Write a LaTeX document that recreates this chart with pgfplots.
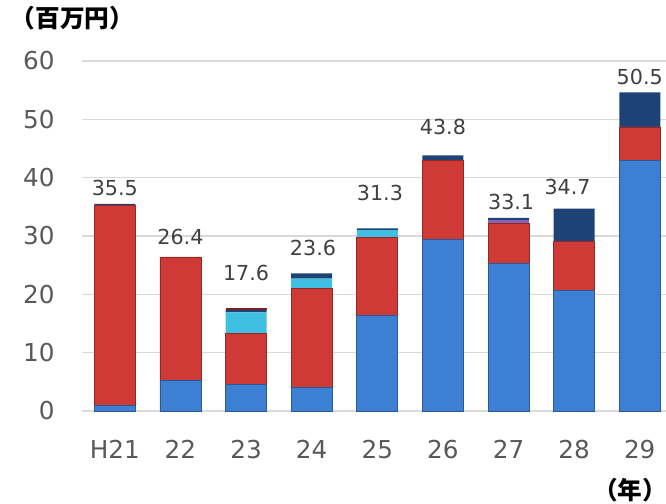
\documentclass[border=0pt]{standalone}
\usepackage{pgfplots}
\pgfplotsset{compat=1.18}
\usepackage{fontspec}
\setmainfont{DejaVu Sans}
\newfontfamily\jp{Noto Sans CJK JP}

\definecolor{cblue}{HTML}{3D7FD2}
\definecolor{cred}{HTML}{D03A36}
\definecolor{ccyan}{HTML}{3FC0E2}
\definecolor{cpurple}{HTML}{8A62B8}
\definecolor{cnavy}{HTML}{1E4275}
\definecolor{cmaroon}{HTML}{7A2222}
\definecolor{tickgray}{HTML}{595959}
\definecolor{labgray}{HTML}{404040}
\definecolor{gridgray}{HTML}{D9D9D9}

\begin{document}
\begin{tikzpicture}
\begin{axis}[
    at={(0,0)}, anchor=south west,
    scale only axis,
    width=438pt, height=262.5pt,
    ybar stacked,
    bar width=30.75pt,
    xmin=-0.5, xmax=8.4,
    ymin=0, ymax=60,
    ytick={0,10,...,60},
    xtick={0,...,8},
    xticklabels={H21,22,23,24,25,26,27,28,29},
    axis line style={draw=none},
    major tick length=0pt,
    ymajorgrids,
    grid style={gridgray, line width=1.2pt},
    tick label style={font=\fontsize{18.5}{22}\selectfont, text=tickgray},
    xticklabel style={yshift=-18pt},
    yticklabel style={xshift=-17pt},
    /pgf/number format/assume math mode=true,
    clip=false,
]
\addplot[fill=cblue, draw=cblue!70!black, line width=0.6pt] coordinates
  {(0,1.0) (1,5.3) (2,4.6) (3,4.0) (4,16.4) (5,29.4) (6,25.3) (7,20.7) (8,43.0)};
\addplot[fill=cred, draw=cred!70!black, line width=0.6pt] coordinates
  {(0,34.2) (1,21.1) (2,8.7) (3,17.0) (4,13.4) (5,13.6) (6,6.9) (7,8.3) (8,5.7)};
\addplot[fill=ccyan, draw=none] coordinates
  {(0,0) (1,0) (2,3.6) (3,1.7) (4,1.2) (5,0) (6,0) (7,0) (8,0)};
\addplot[fill=cpurple, draw=none] coordinates
  {(0,0) (1,0) (2,0) (3,0) (4,0) (5,0) (6,0.5) (7,0) (8,0)};
\addplot[fill=cnavy, draw=none] coordinates
  {(0,0.3) (1,0) (2,0.4) (3,0.9) (4,0.3) (5,0.8) (6,0.4) (7,5.7) (8,5.9)};
\addplot[fill=cmaroon, draw=none] coordinates
  {(0,0) (1,0) (2,0.3) (3,0) (4,0) (5,0) (6,0) (7,0) (8,0)};
% totals, placed where the source put them
\foreach \x/\y/\t in {0/38.2/35.5, 1/29.9/26.4, 2/23.6/17.6, 3.02/28.0/23.6, 4.04/37.4/31.3,
    5/48.7/43.8, 6.04/35.8/33.1, 6.9/38.4/34.7, 8/57.3/50.5}{
  \edef\temp{\noexpand\node[font=\noexpand\fontsize{15.5}{18}\noexpand\selectfont, text=labgray] at (axis cs:\x,\y) {\t};}
  \temp
}
\end{axis}
\node[font=\jp\bfseries\fontsize{18.5}{20}\selectfont, text=black] at (-7pt,294.75pt) {（百万円）};
\node[font=\jp\bfseries\fontsize{18.5}{20}\selectfont, text=black] at (411pt,-59pt) {（年）};
\pgfresetboundingbox
\path (-61.5pt,-69pt) rectangle (438pt,308.25pt);
\end{tikzpicture}
\end{document}
